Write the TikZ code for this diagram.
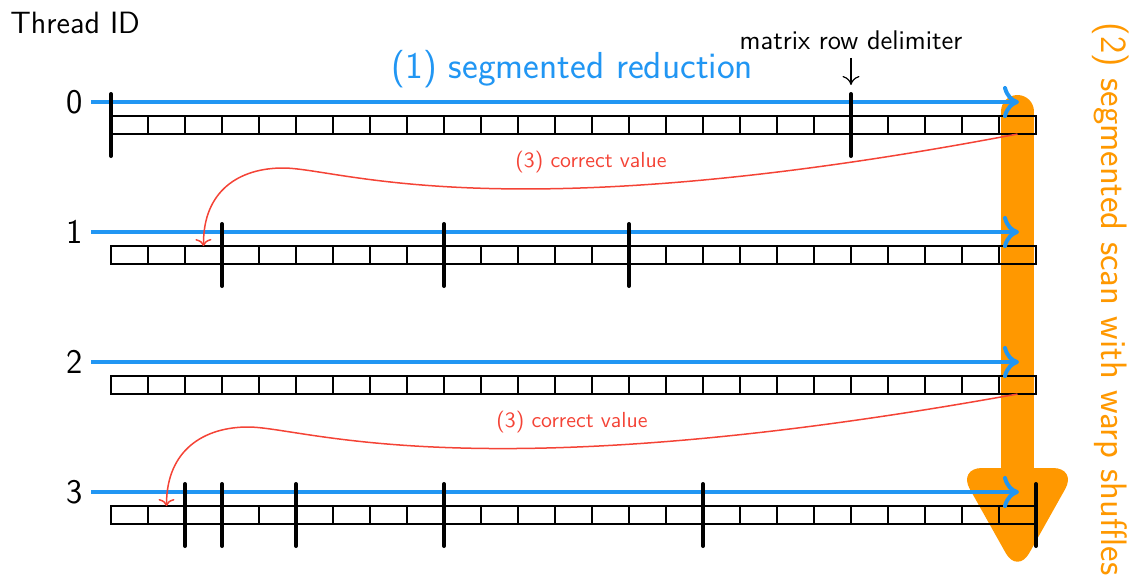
\documentclass[tikz,border=0pt]{standalone}
\usetikzlibrary{arrows.meta}
\definecolor{redu}{RGB}{33,150,243}
\definecolor{scan}{RGB}{255,152,0}
\definecolor{fix}{RGB}{244,67,54}
\tikzset{
  cell/.style={draw, line width=0.7pt, minimum width=18.5pt, minimum height=9pt,
    inner sep=0pt, outer sep=0pt},
  delim/.style={line width=2pt, line cap=round},
  pass/.style={draw=redu, line width=2pt, -{To[length=8pt,width=16pt]}},
  fixup/.style={draw=fix, line width=0.75pt, -{To[length=3.5pt,width=8pt]}},
  tid/.style={font=\sffamily\fontsize{17.28}{20}\selectfont, anchor=east, inner sep=0pt},
  fixlabel/.style={font=\sffamily\fontsize{10.9}{12}\selectfont, text=fix},
  biglabel/.style={font=\sffamily\fontsize{18.8}{22}\selectfont},
}
\begin{document}
\begin{tikzpicture}[x=0.5pt,y=-0.5pt]
\useasboundingbox (0,0) rectangle (1132,580);

% warp-level scan arrow behind everything
\draw[scan, line width=16.5pt, line cap=round] (1017.5,111.5) -- (1017.5,480);
\fill[scan, rounded corners=12pt] (958,468) -- (1077,468) -- (1017.5,574) -- cycle;

% per-thread value arrays and reduction passes
\foreach \r in {0,...,3} {
  \pgfmathsetmacro{\yy}{125+130*\r}
  \foreach \k in {0,...,24} {
    \node[cell] (c\r-\k) at ({129.5+37*\k},\yy) {};
  }
  \coordinate (s\r) at (91,{\yy-23});
  \coordinate (e\r) at (1019,{\yy-23});
  \draw[pass] (s\r) -- (e\r);
  \node[tid] (t\r) at (83,{\yy-23}) {\r};
}

% matrix row delimiters
\foreach \r/\k in {0/0,0/20,1/3,1/9,1/14,3/2,3/3,3/5,3/9,3/16,3/25} {
  \pgfmathsetmacro{\yy}{125+130*\r}
  \draw[delim] ({111+37*\k},{\yy-31}) -- ({111+37*\k},{\yy+31});
}

% carry corrections
\draw[fixup] (c0-24.south) .. controls (498,233) and (340,168) .. (283,168)
  .. controls (240,168) and (203,190) .. (c1-2.north);
\draw[fixup] (c2-24.south) .. controls (470,493) and (305,427) .. (248,427)
  .. controls (205,427) and (166.5,449) .. (c3-1.north);
\node[fixlabel] (f1) at (591,162) {(3) correct value};
\node[fixlabel] (f2) at (572,422) {(3) correct value};

% labels
\node[anchor=west, inner sep=0pt, font=\sffamily\fontsize{15.4}{18}\selectfont] (hdr) at (10,23) {Thread ID};
\node[biglabel, text=redu] (l1) at (572.5,69) {(1) segmented reduction};
\node[font=\sffamily\fontsize{18.4}{22}\selectfont, text=scan, rotate=-90, inner sep=0pt] (l2) at (1111,299) {(2) segmented scan with warp shuffles};
\node[inner sep=1pt, font=\sffamily\fontsize{13.5}{15}\selectfont] (mrd) at (851,40) {matrix row delimiter};
\coordinate (mtip) at (851,85);
\draw[line width=0.6pt, -{To[length=4.5pt,width=8.5pt]}, shorten <=3pt] (mrd.south) -- (mtip);
\end{tikzpicture}
\end{document}
